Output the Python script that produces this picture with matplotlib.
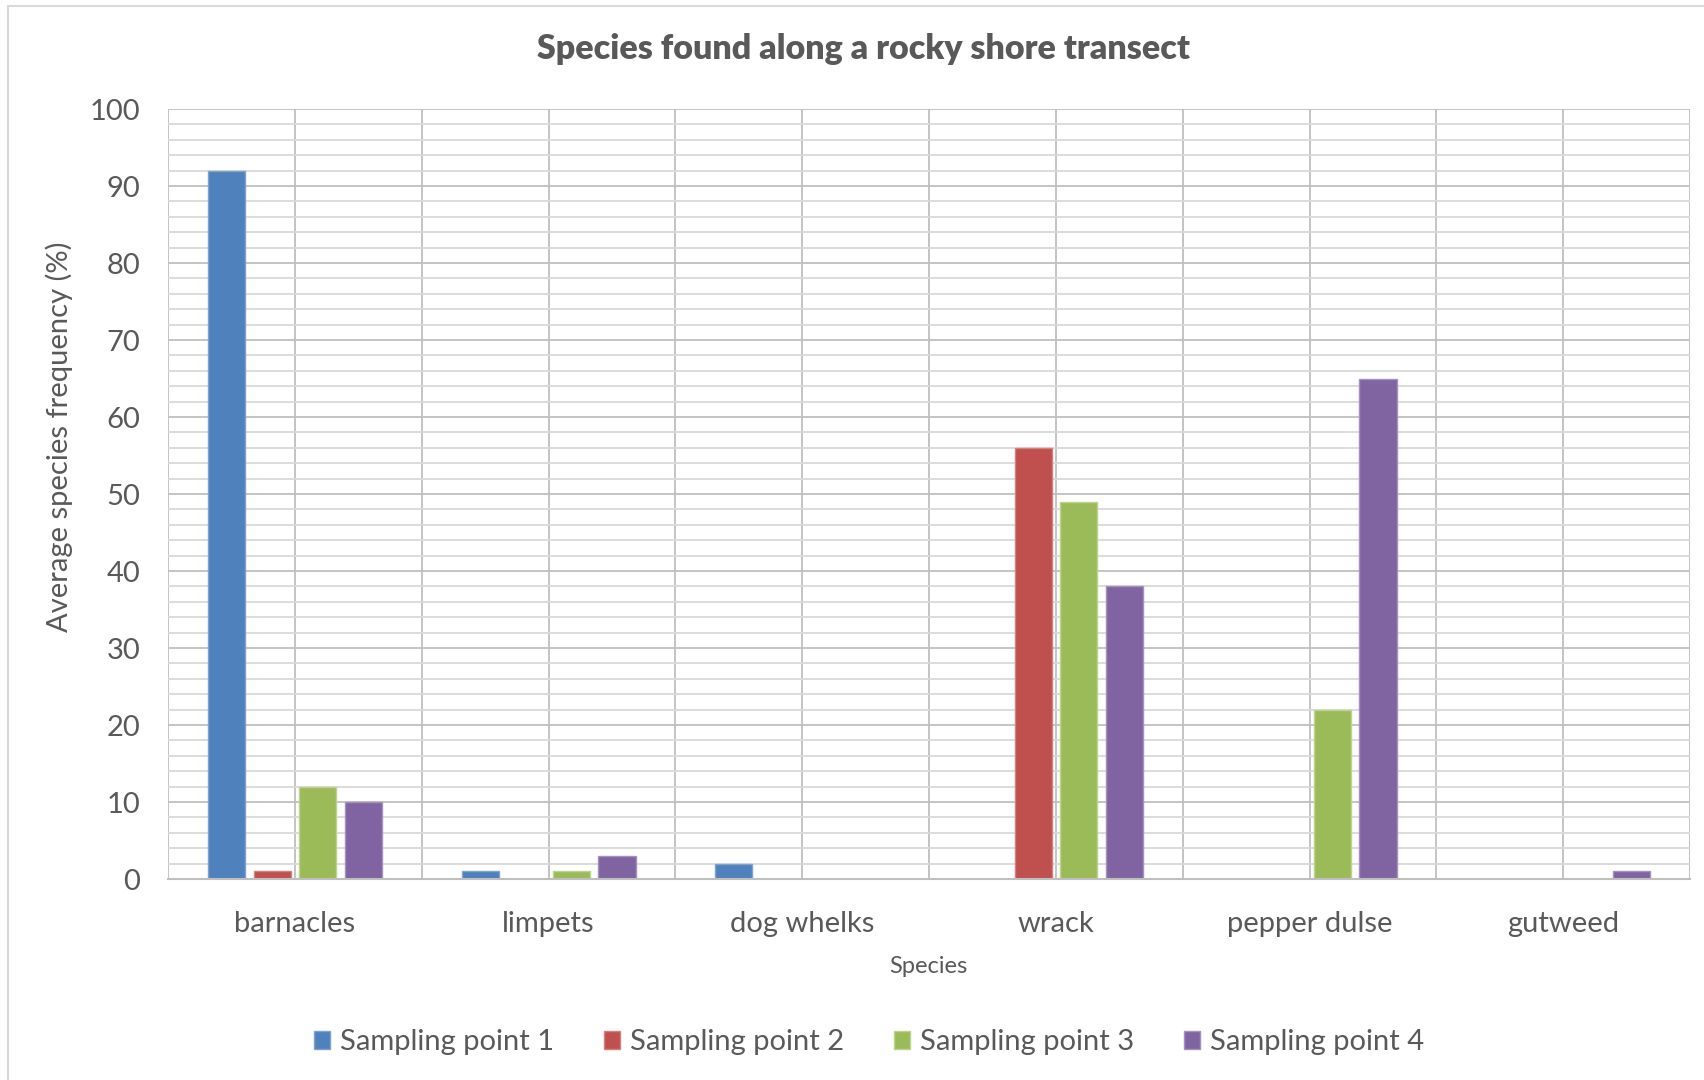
"""Clustered bar chart of species frequency at four sampling points along a rocky shore transect."""
import matplotlib.pyplot as plt
import numpy as np
from matplotlib.patches import Rectangle

plt.rcParams["font.family"] = ["Lato", "DejaVu Sans"]

SPECIES = ["barnacles", "limpets", "dog whelks", "wrack", "pepper dulse", "gutweed"]
SERIES_NAMES = ["Sampling point 1", "Sampling point 2", "Sampling point 3", "Sampling point 4"]
POINT_1 = [92, 1, 2, 0, 0, 0]
POINT_2 = [1, 0, 0, 56, 0, 0]
POINT_3 = [12, 1, 0, 49, 22, 0]
POINT_4 = [10, 3, 0, 38, 65, 1]
COLORS = ["#4F81BD", "#C0504D", "#9BBB59", "#8064A2"]
EDGES = ["#7FA3D1", "#D4807E", "#BCD48E", "#A591BE"]

TEXT = "#595959"
GRID_MAJOR = "#BFBFBF"
GRID_MINOR = "#D9D9D9"


def main():
    fig = plt.figure(figsize=(17.04, 10.8), dpi=100)
    ax = fig.add_axes([0.0986, 0.1861, 0.8932, 0.7129])

    x = np.arange(len(SPECIES))
    stride = 0.18
    width = 0.146
    all_series = [POINT_1, POINT_2, POINT_3, POINT_4]
    handles = []
    for i, (vals, name) in enumerate(zip(all_series, SERIES_NAMES)):
        offset = (i - 1.5) * stride
        bars = ax.bar(x + offset, vals, width, color=COLORS[i], edgecolor=EDGES[i],
                      linewidth=1.0, label=name, zorder=3)
        handles.append(bars)

    ax.set_xlim(-0.5, len(SPECIES) - 0.5)
    ax.set_ylim(0, 100)

    # horizontal grid: every 2 (minor) and every 10 (major)
    ax.set_yticks(np.arange(0, 101, 10))
    ax.set_yticks(np.arange(0, 101, 2), minor=True)
    ax.grid(axis="y", which="minor", color=GRID_MINOR, linewidth=1.3, zorder=0)
    ax.grid(axis="y", which="major", color=GRID_MAJOR, linewidth=1.3, zorder=1)

    # vertical lines at category boundaries and centres
    vx = np.arange(-0.5, len(SPECIES) - 0.5 + 0.01, 0.5)
    ax.vlines(vx, 0, 100, color=GRID_MAJOR, linewidth=1.3, zorder=1)

    ax.set_xticks(x)
    ax.set_xticklabels(SPECIES)
    ax.tick_params(axis="x", length=0, pad=23, labelsize=21, labelcolor=TEXT)
    ax.tick_params(axis="y", which="both", length=0, pad=20, labelsize=21, labelcolor=TEXT)

    for side in ["top", "right", "left"]:
        ax.spines[side].set_visible(False)
    ax.spines["bottom"].set_color(GRID_MAJOR)
    ax.spines["bottom"].set_linewidth(1.5)
    ax.spines["bottom"].set_zorder(4)

    fig.text(0.507, 0.955, "Species found along a rocky shore transect", ha="center",
             va="center", fontsize=24.5, fontweight="heavy", color=TEXT)
    fig.text(0.035, 0.596, "Average species frequency (%)", rotation=90, ha="center",
             va="center", fontsize=21, color=TEXT)
    fig.text(0.545, 0.105, "Species", ha="center", va="center", fontsize=17, color=TEXT)

    leg = fig.legend(handles=handles, loc="center", bbox_to_anchor=(0.51, 0.035), ncol=4,
                     frameon=False, fontsize=21, handlelength=0.55, handleheight=0.55,
                     handletextpad=0.35, columnspacing=1.7)
    for text in leg.get_texts():
        text.set_color(TEXT)

    # chart frame
    fig.patches.append(Rectangle((8 / 1704, -0.1), 2.0, 1.1 - 6 / 1080, transform=fig.transFigure,
                                 fill=False, edgecolor="#D9D9D9", linewidth=1.5))

    fig.savefig("out.png", dpi=100)
    plt.close(fig)


if __name__ == "__main__":
    main()
